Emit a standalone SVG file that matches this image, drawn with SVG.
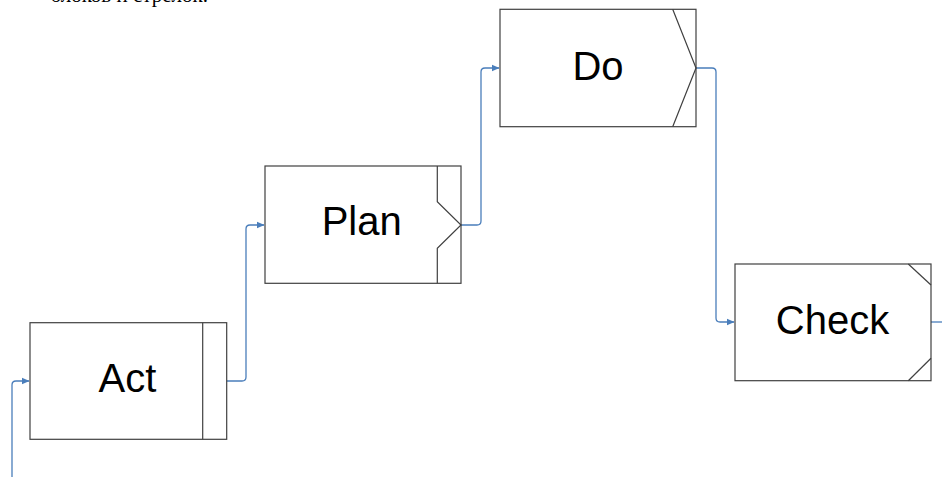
<svg xmlns="http://www.w3.org/2000/svg" width="942" height="477" viewBox="0 0 942 477">
<style>
.box{fill:#fff;stroke:#404040;stroke-width:1.2}
.deco{fill:none;stroke:#404040;stroke-width:1.2}
.lbl{font-family:"Liberation Sans",Arial,sans-serif;font-size:40px;fill:#000;text-anchor:middle}
.conn{fill:none;stroke:#4a7ebb;stroke-width:1.3}
.top{font-family:"Liberation Serif","Times New Roman",serif;font-size:21px;fill:#000;text-anchor:end}
</style>
<defs>
<marker id="ah" markerWidth="8" markerHeight="8" refX="7" refY="4" orient="auto" markerUnits="userSpaceOnUse">
<path d="M0,0.8 L7.5,4 L0,7.2 Z" fill="#4a7ebb"/>
</marker>
</defs>
<text class="top" x="208" y="2">блоков и стрелок.</text>
<g id="connectors">
<path class="conn" d="M12,477 L12,385 Q12,381 16,381 L29,381" marker-end="url(#ah)"/>
<path class="conn" d="M226.7,381 L242,381 Q246,381 246,377 L246,229 Q246,225 250,225 L264,225" marker-end="url(#ah)"/>
<path class="conn" d="M461,225 L477,225 Q481,225 481,221 L481,72 Q481,68 485,68 L499,68" marker-end="url(#ah)"/>
<path class="conn" d="M696,68 L712,68 Q716,68 716,72 L716,318 Q716,322 720,322 L734,322" marker-end="url(#ah)"/>
<path class="conn" d="M931,322 L942,322"/>
</g>
<g id="act">
<rect class="box" x="30" y="322.7" width="196.7" height="116.6"/>
<line class="deco" x1="202.7" y1="322.7" x2="202.7" y2="439.3"/>
<text class="lbl" x="127.5" y="392">Act</text>
</g>
<g id="plan">
<rect class="box" x="265" y="166" width="196" height="117.3"/>
<polyline class="deco" points="437.3,166 437.3,201.7 461,225 437.3,248.3 437.3,283.3"/>
<text class="lbl" x="361.7" y="234.5">Plan</text>
</g>
<g id="do">
<rect class="box" x="500" y="9.3" width="196" height="117.4"/>
<polyline class="deco" points="672.7,9.3 696,68 672.7,126.7"/>
<text class="lbl" x="598" y="80">Do</text>
</g>
<g id="check">
<rect class="box" x="735" y="264" width="196" height="116.7"/>
<line class="deco" x1="908.3" y1="264" x2="931" y2="285"/>
<line class="deco" x1="931" y1="358.3" x2="908.3" y2="380.7"/>
<text class="lbl" x="832.5" y="333.5">Check</text>
</g>
</svg>
